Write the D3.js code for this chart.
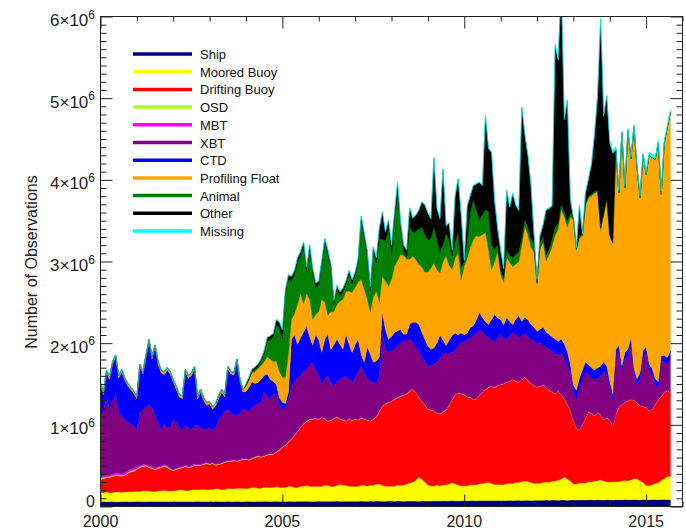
<!DOCTYPE html>
<html><head><meta charset="utf-8">
<script src="https://cdn.jsdelivr.net/npm/d3@7"></script>
<style>
html,body{margin:0;padding:0;background:#fff;}
svg{display:block;font-family:"Liberation Sans",Arial,Helvetica,sans-serif;}
</style></head><body>
<svg id="chart" width="686" height="528"></svg>
<script>
// Monthly observation counts by instrument type, in thousands, Jan 2000 - Sep 2015
const startYear = 2000;

const ship = [
58,60,59,61,60,58,59,60,61,60,59,60, 60,61,60,59,61,62,60,61,60,62,61,60,
61,62,60,61,62,61,60,62,63,61,62,61, 62,61,63,62,61,62,63,62,61,63,62,62,
62,63,61,62,63,62,64,63,62,63,64,62, 63,62,64,63,62,64,63,65,64,63,62,64,
64,63,65,64,63,65,66,64,65,63,64,65, 65,64,66,65,64,66,65,67,66,64,65,66,
66,65,67,66,65,67,68,66,67,65,66,67, 68,67,69,70,68,71,70,69,72,70,69,71,
72,70,73,72,71,74,73,72,75,73,72,74, 74,73,75,76,74,77,76,75,78,76,75,77,
77,76,78,79,77,80,79,78,81,79,78,80, 80,79,81,82,80,83,82,81,84,82,81,83,
82,81,83,84,82,85,84,83,86,84,83,85, 84,83,85,86,84,87,86,85,86];

const moored = [
110,112,122,108,111,121,123,112,120,124,121,125, 126,124,135,133,131,122,120,132,134,136,133,131,
132,134,146,144,133,131,145,147,144,146,148,145, 147,146,158,156,145,147,160,158,157,159,161,160,
158,160,171,170,159,161,172,174,171,173,184,172, 171,173,183,185,172,170,184,186,196,185,183,184,
182,184,196,195,183,181,194,208,197,196,184,182, 183,181,195,197,184,196,195,207,209,196,183,182,
181,183,196,194,197,208,220,233,256,294,270,233, 196,184,183,195,182,194,196,207,220,208,195,184,
182,184,196,194,195,207,209,220,221,208,196,194, 195,193,207,209,206,220,219,233,231,232,219,208,
207,209,220,222,219,233,232,245,257,282,258,232, 196,195,208,210,207,220,222,234,232,245,233,220,
219,221,220,219,232,233,231,245,258,257,232,208, 172,171,184,196,208,233,257,282,285];

const drifting = [
160,172,170,185,196,199,193,197,200,222,243,248, 270,292,296,305,283,280,268,271,281,295,283,258,
246,255,259,268,293,284,280,295,292,296,305,318, 305,318,283,295,317,331,329,332,342,331,344,354,
356,344,353,368,390,380,378,393,405,403,417,452, 491,512,540,577,634,686,720,761,782,818,822,830,
818,843,810,785,806,830,833,797,795,784,821,807, 819,810,821,806,809,785,807,822,893,968,1003,1027,
1041,1063,1067,1088,1100,1104,1125,1139,1076,980,954,943, 931,928,919,880,883,893,920,966,1017,1088,1127,1124,
1115,1088,1066,1041,1052,1078,1113,1139,1162,1188,1186,1211, 1225,1234,1238,1247,1274,1235,1222,1249,1271,1237,1213,1198,
1176,1186,1189,1150,1127,1088,1066,1090,1027,956,917,858, 784,686,648,711,795,858,831,797,833,795,748,782,
760,684,821,917,931,954,980,978,956,929,919,931, 956,917,919,968,1015,1029,1052,1054,1027];

const osd = [
12,13,11,12,12,11,13,12,12,11,12,13, 10,11,10,9,10,11,10,10,9,10,11,10,
9,9,10,8,9,9,8,9,10,9,8,9, 8,8,9,8,7,8,8,9,8,8,7,8,
8,7,8,8,9,8,7,8,8,7,8,8, 6,6,7,6,6,5,6,6,7,6,6,6,
6,5,6,6,5,6,6,5,6,6,5,6, 5,6,5,6,5,5,6,5,6,5,5,6,
5,5,6,5,5,5,6,5,5,5,6,5, 4,5,4,4,5,4,4,4,5,4,4,5,
4,4,5,4,4,4,5,4,4,4,5,4, 4,4,4,5,4,4,4,5,4,4,4,4,
4,4,4,4,5,4,4,4,4,5,4,4, 4,4,4,4,4,5,4,4,4,4,4,5,
4,4,4,4,4,4,5,4,4,4,4,4, 4,4,4,5,4,4,4,4,4];

const mbt = [
18,19,17,18,18,17,19,18,17,18,19,18, 14,15,14,13,14,15,14,14,13,14,15,14,
8,8,9,8,7,8,8,9,8,8,7,8, 6,6,7,6,6,5,6,6,7,6,6,6,
5,5,6,5,5,4,5,5,6,5,5,5, 3,3,4,3,3,3,4,3,3,3,4,3,
3,3,3,4,3,3,3,3,4,3,3,3, 3,3,3,3,4,3,3,3,3,3,4,3,
2,2,3,2,2,2,3,2,2,2,3,2, 2,2,2,3,2,2,2,2,3,2,2,2,
2,2,2,2,3,2,2,2,2,2,3,2, 2,2,2,2,2,3,2,2,2,2,2,2,
2,2,2,2,2,2,3,2,2,2,2,2, 1,1,1,2,1,1,1,1,2,1,1,1,
1,1,1,1,1,2,1,1,1,1,1,1, 1,1,1,1,1,1,2,1,1];

const xbt = [
753,790,961,802,912,986,741,717,655,606,558,521, 466,649,674,698,747,723,649,539,441,490,466,502,
607,571,485,448,497,473,436,460,485,448,424,399, 439,402,451,537,574,610,622,586,549,549,561,598,
599,587,611,623,636,660,783,697,660,721,697,550, 456,456,517,627,652,652,627,640,627,664,689,591,
542,395,481,554,456,395,419,481,517,542,493,456, 506,592,628,567,494,482,445,408,408,873,665,604,
616,604,628,653,653,665,628,567,555,555,531,531, 520,545,569,618,679,716,692,630,569,545,582,618,
643,692,728,777,802,802,741,667,606,569,557,582, 606,557,520,557,569,572,545,531,536,529,534,538,
520,533,484,497,494,499,484,435,508,511,483,447, 337,361,508,545,557,447,435,435,422,471,594,520,
387,313,693,668,399,521,546,668,313,215,313,595, 668,497,423,240,142,423,374,313,423];

const ctd = [
373,202,300,373,435,435,422,532,483,435,422,398, 373,557,435,606,765,594,826,716,704,606,704,643,
459,398,373,386,643,606,667,704,312,435,349,300, 288,251,263,263,288,177,496,471,483,655,386,214,
220,294,318,269,257,282,196,282,245,159,122,86, 86,49,86,588,575,404,465,477,526,343,208,428,
428,392,490,502,404,502,526,428,343,514,416,367, 404,392,147,122,392,330,245,269,245,269,245,159,
171,208,184,159,86,61,184,245,294,330,306,269, 245,196,196,233,282,159,86,159,208,208,122,122,
86,86,122,122,159,208,171,159,159,245,330,245, 184,159,269,171,98,184,269,171,196,208,184,171,
159,159,220,184,184,171,184,171,171,159,159,122, 86,98,125,118,124,120,126,119,123,121,108,112,
86,73,98,86,73,86,86,86,73,73,86,86, 73,73,73,73,73,73,73,86,86];

const profilingFloat = [
28,31,27,30,33,29,31,30,28,32,30,31, 30,32,29,31,33,30,32,29,31,33,30,32,
31,33,30,32,34,31,33,30,32,34,31,33, 32,34,31,33,35,32,34,31,33,35,32,34,
61,86,110,147,171,171,171,208,245,245,282,318, 306,318,465,245,257,490,539,343,404,453,318,245,
343,649,453,233,465,404,428,526,612,526,649,734, 698,698,918,894,588,514,796,857,673,441,588,649,
698,808,857,918,967,918,796,808,771,734,796,820, 906,991,1040,894,759,955,1102,918,808,918,1004,649,
845,918,979,1053,1028,930,1016,1089,918,612,649,808, 551,526,734,722,710,673,661,942,1114,1040,942,918,
575,979,1040,869,979,1114,1273,1371,1591,1554,1518,1799, 2020,1714,1714,1640,1922,2044,2105,2166,2154,1665,1799,2032,
1775,1848,2448,1860,2852,2020,2668,2191,2962,2583,2142,2399, 2105,2558,2583,2681,2925,1971,2607,2815,2913];

const animal = [
0,0,0,0,0,0,0,0,0,0,0,0, 0,0,0,0,0,0,0,0,0,0,0,0,
0,0,0,0,0,0,0,0,0,0,0,0, 0,0,0,0,0,0,0,0,0,0,0,0,
12,12,12,24,24,49,98,196,245,294,441,539, 465,1016,918,465,477,514,465,698,269,612,575,330,
330,428,734,747,539,86,184,73,86,86,208,110, 147,245,710,636,539,257,563,343,771,453,490,698,
306,575,820,330,49,24,392,294,343,428,490,465, 392,367,441,367,257,208,269,306,171,196,245,147,
49,220,428,490,318,208,245,282,465,306,147,86, 61,49,98,86,110,122,122,86,86,86,98,98,
24,73,73,73,61,86,98,73,61,61,73,49, 24,22,26,21,25,23,20,24,22,26,21,23,
6,5,4,3,3,2,2,2,2,2,2,2, 2,2,2,2,2,2,2,2,2];

const other = [
0,0,0,0,0,0,0,0,0,0,0,0, 0,0,0,0,0,0,0,0,0,0,0,0,
0,0,0,0,0,0,0,0,0,0,0,0, 0,0,0,0,0,0,0,0,0,0,0,0,
19,32,32,32,32,32,32,44,44,44,68,68, 114,55,50,56,52,54,49,57,51,55,50,53,
45,48,43,46,44,47,45,43,46,44,48,45, 39,39,63,51,51,51,51,63,137,333,112,112,
110,86,135,61,74,86,233,172,196,233,306,355, 331,233,845,380,404,930,98,208,61,563,661,637,
12,416,208,172,318,453,355,1151,771,1126,600,196, 233,110,722,588,784,600,502,1591,1028,882,661,110,
25,98,135,551,502,404,2228,1995,2681,1126,1481,159, 4,4,369,4,125,210,369,700,1153,2560,1190,1251,
1132,1096,3,2,3,2,3,2,3,2,3,2, 2,3,2,3,2,3,2,3,2];

const missing = [
5,4,5,6,5,4,5,5,6,5,4,5, 4,5,5,6,4,5,5,4,6,5,5,4,
5,5,4,6,5,5,4,5,5,6,4,5, 5,4,6,5,5,4,5,6,5,4,5,5,
4,5,5,6,5,4,5,5,6,5,5,4, 8,9,10,8,9,11,8,10,9,8,10,9,
9,10,8,9,11,8,10,9,8,10,9,8, 10,8,9,11,9,8,10,9,12,11,10,9,
11,10,12,9,10,11,13,12,11,12,13,12, 12,11,14,12,13,12,10,12,9,13,12,14,
11,13,12,11,13,12,12,14,13,12,13,12, 12,11,13,12,14,12,12,15,13,12,13,11,
11,12,13,12,14,12,14,13,15,12,13,11, 8,8,10,8,10,10,10,10,10,10,10,10,
37,37,33,34,33,35,34,33,35,34,33,35, 36,37,36,38,36,37,38,37,36];

const seriesNames  = ["Ship","Moored Buoy","Drifting Buoy","OSD","MBT","XBT","CTD","Profiling Float","Animal","Other","Missing"];
const seriesValues = [ship, moored, drifting, osd, mbt, xbt, ctd, profilingFloat, animal, other, missing];
const seriesColors = ["#00007f","#ffff00","#ff0000","#a8ff2e","#ff00ff","#800080","#0000ff","#ffa500","#008000","#000000","#00ffff"];

const xMajorTicks = [2000, 2005, 2010, 2015];
const xTickLabels = ["2000", "2005", "2010", "2015"];
const yMajorTicks = [0, 1000, 2000, 3000, 4000, 5000, 6000];   // thousands
const yTickMantissa = ["0", "1", "2", "3", "4", "5", "6"];
const yAxisTitle = "Number of Observations";

// ---- layout ----
const W = 686, H = 528;
const plot = {left: 100.5, right: 682.5, top: 16.5, bottom: 506.5};

const svg = d3.select("#chart");
svg.append("rect").attr("width", W).attr("height", H).attr("fill", "#fff");

const x = d3.scaleLinear().domain([2000, 2016]).range([plot.left, plot.right]);
const y = d3.scaleLinear().domain([0, 6000]).range([plot.bottom, plot.top]);

// table of months
const rows = ship.map((_, i) => {
  const r = {date: startYear + i / 12};
  seriesNames.forEach((k, j) => { r[k] = seriesValues[j][i]; });
  return r;
});
const stacked = d3.stack().keys(seriesNames)(rows);

svg.append("clipPath").attr("id", "plotClip")
  .append("rect")
  .attr("x", plot.left).attr("y", plot.top)
  .attr("width", plot.right - plot.left).attr("height", plot.bottom - plot.top);

const area = d3.area()
  .x(d => x(d.data.date))
  .y0(d => y(d[0]))
  .y1(d => y(d[1]));

svg.append("g").attr("clip-path", "url(#plotClip)")
  .selectAll("path").data(stacked).join("path")
  .attr("d", area)
  .attr("fill", (d, i) => seriesColors[i])
  .attr("stroke", (d, i) => seriesColors[i])
  .attr("stroke-width", 0.4);

// ---- axes: ticks point inward on all four sides ----
const axisColor = "#222";
const xMinor = d3.range(2000, 2017).filter(v => !xMajorTicks.includes(v));
const yMinor = d3.range(0, 6001, 100).filter(v => v % 1000 !== 0);

function ticks(gen, vals, size, tx, ty) {
  const g = svg.append("g").attr("transform", `translate(${tx},${ty})`)
    .call(gen.tickValues(vals).tickSize(-size).tickFormat(""));
  g.select(".domain").remove();
  g.selectAll("line").attr("stroke", axisColor).attr("stroke-width", 1);
}
ticks(d3.axisBottom(x), xMajorTicks, 12, 0, plot.bottom);
ticks(d3.axisBottom(x), xMinor, 5, 0, plot.bottom);
ticks(d3.axisTop(x), xMajorTicks, 12, 0, plot.top);
ticks(d3.axisTop(x), xMinor, 5, 0, plot.top);
ticks(d3.axisLeft(y), yMajorTicks, 12, plot.left, 0);
ticks(d3.axisLeft(y), yMinor, 6, plot.left, 0);
ticks(d3.axisRight(y), yMajorTicks, 12, plot.right, 0);
ticks(d3.axisRight(y), yMinor, 6, plot.right, 0);

svg.append("rect")
  .attr("x", plot.left).attr("y", plot.top)
  .attr("width", plot.right - plot.left).attr("height", plot.bottom - plot.top)
  .attr("fill", "none").attr("stroke", axisColor).attr("stroke-width", 1);

// x tick labels
svg.append("g").selectAll("text").data(xMajorTicks).join("text")
  .attr("x", d => x(d)).attr("y", 526.5)
  .attr("text-anchor", "middle")
  .attr("font-size", 16).attr("fill", "#222")
  .text((d, i) => xTickLabels[i]);

// y tick labels, written as n×10^6
const yl = svg.append("g");
yMajorTicks.forEach((v, i) => {
  const t = yl.append("text")
    .attr("x", 95).attr("y", v === 0 ? y(v) : y(v) + 9.5)
    .attr("text-anchor", "end").attr("font-size", v === 0 ? 16 : 17).attr("fill", "#222");
  if (v === 0) { t.text(yTickMantissa[i]); return; }
  t.append("tspan").text(yTickMantissa[i] + "\u00d710");
  t.append("tspan").attr("dy", -7.5).attr("font-size", 12).text("6");
});

// y axis title
svg.append("text")
  .attr("transform", "translate(37,262) rotate(-90)")
  .attr("text-anchor", "middle").attr("font-size", 16).attr("fill", "#222")
  .text(yAxisTitle);

// ---- legend ----
const leg = svg.append("g");
seriesNames.forEach((name, i) => {
  const ly = 54 + i * 17.7;
  leg.append("line")
    .attr("x1", 133).attr("x2", 192).attr("y1", ly).attr("y2", ly)
    .attr("stroke", seriesColors[i]).attr("stroke-width", 3.5);
  leg.append("text")
    .attr("x", 200).attr("y", ly + 5)
    .attr("font-size", 13).attr("fill", "#111")
    .text(name);
});
</script>
</body></html>
